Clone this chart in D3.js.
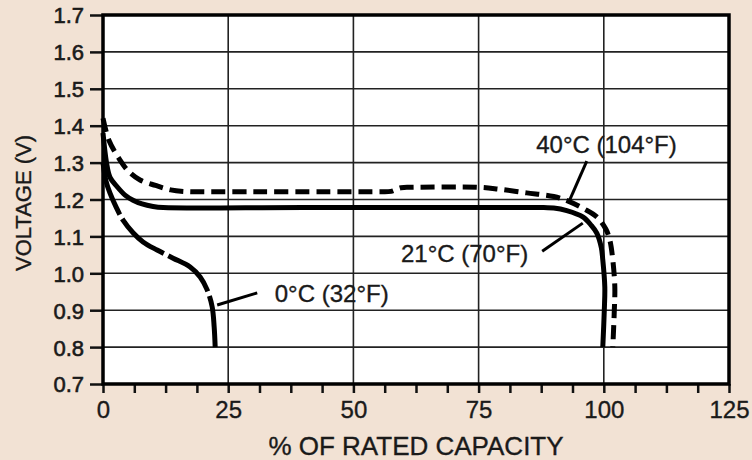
<!DOCTYPE html>
<html>
<head>
<meta charset="utf-8">
<script src="https://cdn.jsdelivr.net/npm/d3@7"></script>
<style>
  html, body { margin: 0; padding: 0; background: #f2e2d4; }
  svg text { font-family: "Liberation Sans", Arial, sans-serif; fill: #1a1a1a; stroke: #1a1a1a; stroke-width: 0.35px; }
</style>
</head>
<body>
<div id="chart"></div>
<script>
// tick values
const xTicks = [0, 25, 50, 75, 100, 125];
const xMinorTicks = [6.25, 12.5, 18.75, 31.25, 37.5, 43.75, 56.25, 62.5, 68.75, 81.25, 87.5, 93.75, 106.25, 112.5, 118.75];
const yTicks = [0.7, 0.8, 0.9, 1.0, 1.1, 1.2, 1.3, 1.4, 1.5, 1.6, 1.7];
const xGrid = [25, 50, 75, 100];

// 40C (104F) discharge curve: % capacity / volts
const cap40 = [0, 1.2, 3.4, 5, 7.4, 10.5, 13.5, 16, 30, 45, 55, 57.5, 59.5, 62, 75, 79, 84.6, 90, 93, 96, 98.6, 100.4, 101.2, 101.8, 102.2, 102.1, 101.8];
const volt40 = [1.42, 1.36, 1.307, 1.278, 1.253, 1.238, 1.226, 1.222, 1.221, 1.221, 1.221, 1.222, 1.232, 1.233, 1.233, 1.228, 1.218, 1.208, 1.195, 1.175, 1.153, 1.12, 1.09, 1.036, 0.963, 0.9, 0.8];

// 21C (70F)
const cap21 = [0, 0.7, 1.4, 2.8, 4.4, 6, 7.8, 10, 12, 40, 88, 90, 92.6, 95.8, 97.5, 98.6, 99.5, 99.8, 100.2, 100.1, 99.8];
const volt21 = [1.38, 1.30, 1.26, 1.235, 1.212, 1.198, 1.188, 1.181, 1.178, 1.178, 1.178, 1.177, 1.17, 1.153, 1.13, 1.109, 1.07, 1.036, 0.963, 0.9, 0.8];

// 0C (32F)
const cap0 = [0, 0.6, 1.4, 2.6, 4, 6, 8, 10.8, 14, 17.4, 19.4, 20.8, 21.8, 22.2, 22.4];
const volt0 = [1.30, 1.25, 1.217, 1.18, 1.144, 1.11, 1.085, 1.063, 1.041, 1.017, 0.99, 0.955, 0.909, 0.854, 0.8];

// curve labels
const labelText = ["40\u00B0C (104\u00B0F)", "21\u00B0C (70\u00B0F)", "0\u00B0C (32\u00B0F)"];

const w = 752, h = 460;
const pad_left = 103, pad_right = 729, pad_top = 15, pad_bottom = 384;

const svg = d3.select('#chart').append('svg')
  .attr('width', w).attr('height', h);

svg.append('rect').attr('width', w).attr('height', h).attr('fill', '#f2e2d4');

const x = d3.scaleLinear().domain([0, 125]).range([pad_left, pad_right]);
const y = d3.scaleLinear().domain([0.7, 1.7]).range([pad_bottom, pad_top]);

// plot background
svg.append('rect')
  .attr('x', pad_left).attr('y', pad_top)
  .attr('width', pad_right - pad_left).attr('height', pad_bottom - pad_top)
  .attr('fill', '#fff');

// horizontal grid
svg.append('g').selectAll('line')
  .data(yTicks).enter().append('line')
  .attr('x1', pad_left).attr('x2', pad_right)
  .attr('y1', d => y(d)).attr('y2', d => y(d))
  .attr('stroke', '#222').attr('stroke-width', 1.6);

// vertical grid
svg.append('g').selectAll('line')
  .data(xGrid).enter().append('line')
  .attr('x1', d => x(d)).attr('x2', d => x(d))
  .attr('y1', pad_top).attr('y2', pad_bottom)
  .attr('stroke', '#222').attr('stroke-width', 1.6);

// y axis
const yAxis = d3.axisLeft(y).tickValues(yTicks).tickSize(13).tickPadding(6)
  .tickFormat(d3.format('.1f'));
const gy = svg.append('g').attr('transform', 'translate(' + pad_left + ',0)').call(yAxis);
gy.select('.domain').remove();
gy.selectAll('line').attr('stroke', '#111').attr('stroke-width', 2.5);
gy.selectAll('text').style('font-size', '22px').attr('dy', '0.36em').style('stroke-width', '0.6px');

// x axis
const xAxis = d3.axisBottom(x).tickValues(xTicks).tickSize(9).tickPadding(8)
  .tickFormat(d3.format('d'));
const gx = svg.append('g').attr('transform', 'translate(0,' + pad_bottom + ')').call(xAxis);
gx.select('.domain').remove();
gx.selectAll('line').attr('stroke', '#111').attr('stroke-width', 2.5);
gx.selectAll('text').style('font-size', '24px');

const gxm = svg.append('g').attr('transform', 'translate(0,' + pad_bottom + ')')
  .call(d3.axisBottom(x).tickValues(xMinorTicks).tickSize(9).tickFormat(''));
gxm.select('.domain').remove();
gxm.selectAll('line').attr('stroke', '#111').attr('stroke-width', 2.5);

// frame
svg.append('rect')
  .attr('x', pad_left).attr('y', pad_top)
  .attr('width', pad_right - pad_left).attr('height', pad_bottom - pad_top)
  .attr('fill', 'none').attr('stroke', '#000').attr('stroke-width', 3.5);

// curves
const line = d3.line().x(d => x(d[0])).y(d => y(d[1])).curve(d3.curveCatmullRom.alpha(0.5));

svg.append('path').datum(d3.zip(cap21, volt21))
  .attr('d', line).attr('fill', 'none').attr('stroke', '#000').attr('stroke-width', 5);

svg.append('path').datum(d3.zip(cap40, volt40))
  .attr('d', line).attr('fill', 'none').attr('stroke', '#000').attr('stroke-width', 5)
  .attr('stroke-dasharray', '14,7');

svg.append('path').datum(d3.zip(cap0, volt0))
  .attr('d', line).attr('fill', 'none').attr('stroke', '#000').attr('stroke-width', 5)
  .attr('stroke-dasharray', '55,5');

// labels, placed in data units
const labelPos = [[86.5, 1.326, 'start'], [84.9, 1.031, 'end'], [34.3, 0.922, 'start']];
const leaders = [
  [[96.6, 1.304], [93.2, 1.199]],
  [[87.7, 1.060], [95.8, 1.136]],
  [[22.8, 0.914], [30.8, 0.947]]
];

svg.append('g').selectAll('text')
  .data(labelText).enter().append('text')
  .attr('x', (d, i) => x(labelPos[i][0]))
  .attr('y', (d, i) => y(labelPos[i][1]))
  .attr('text-anchor', (d, i) => labelPos[i][2])
  .style('font-size', '24px')
  .text(d => d);

svg.append('g').selectAll('line')
  .data(leaders).enter().append('line')
  .attr('x1', d => x(d[0][0])).attr('y1', d => y(d[0][1]))
  .attr('x2', d => x(d[1][0])).attr('y2', d => y(d[1][1]))
  .attr('stroke', '#000').attr('stroke-width', 3);

// axis titles
svg.append('text')
  .text('% OF RATED CAPACITY')
  .attr('x', (pad_left + pad_right) / 2).attr('y', 455)
  .attr('text-anchor', 'middle')
  .style('font-size', '26px');

svg.append('text')
  .text('VOLTAGE (V)')
  .attr('transform', 'translate(31,' + 203 + ') rotate(-90)')
  .attr('text-anchor', 'middle')
  .style('font-size', '22px');
</script>
</body>
</html>
